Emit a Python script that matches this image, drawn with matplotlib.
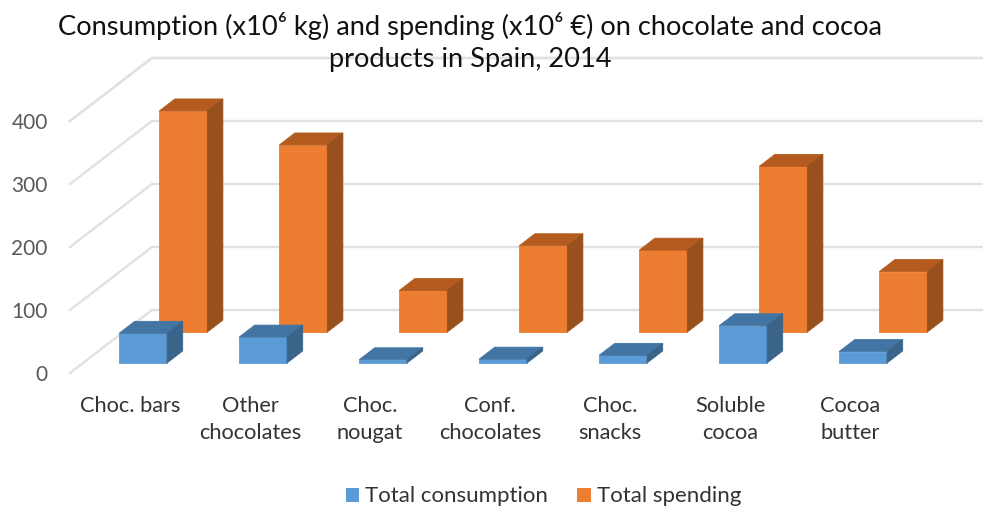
import matplotlib
matplotlib.use("Agg")
import matplotlib.pyplot as plt
from matplotlib.patches import Polygon, Patch

plt.rcParams['font.family'] = ['Lato', 'DejaVu Sans']
plt.rcParams['mathtext.default'] = 'regular'

categories = ["Choc. bars", "Other\nchocolates", "Choc.\nnougat", "Conf.\nchocolates",
              "Choc.\nsnacks", "Soluble\ncocoa", "Cocoa\nbutter"]
consumption = [47, 41, 5, 6, 12, 59, 18]
spending = [351, 297, 66, 137, 130, 263, 96]
y_ticks = [0, 100, 200, 300, 400]
y_wall = [0, 100, 200, 300, 400]
series_names = ["Total consumption", "Total spending"]
title = "Consumption (x10⁶ kg) and spending (x10⁶ €) on chocolate and cocoa\nproducts in Spain, 2014"

W, H = 983, 509
fig = plt.figure(figsize=(W / 100, H / 100), dpi=100)
ax = fig.add_axes([70 / W, (H - 373) / H, (W - 70) / W, 316 / H])
ax.set_xlim(-60 / 120, (W - 130) / 120)
ax.set_ylim(0, 316 / 0.63)
for s in ax.spines.values():
    s.set_visible(False)

# oblique projection: depth 0 (front) .. 1 (back wall)
DX, DY = 82 / 120, 100.0


def proj(x, v, d):
    return (x + d * DX, v + d * DY)


def bar(i, v, d0, dd, front, top, side, z):
    hw = 0.2
    l, r = i - hw, i + hw
    ax.add_patch(Polygon([proj(l, 0, d0), proj(r, 0, d0), proj(r, v, d0), proj(l, v, d0)],
                         fc=front, ec=front, lw=0.6, zorder=z, clip_on=False))
    ax.add_patch(Polygon([proj(l, v, d0), proj(r, v, d0), proj(r, v, d0 + dd), proj(l, v, d0 + dd)],
                         fc=top, ec=top, lw=0.6, zorder=z, clip_on=False))
    ax.add_patch(Polygon([proj(r, 0, d0), proj(r, 0, d0 + dd), proj(r, v, d0 + dd), proj(r, v, d0)],
                         fc=side, ec=side, lw=0.6, zorder=z, clip_on=False))


# gridlines: floor/side wall diagonal then back wall horizontal
x_left, x_right = ax.get_xlim()
for t in y_wall + [500]:
    if t == 500:
        p0 = proj(x_left, 400, 0)
        p1 = proj(x_left, 400, 1)
    else:
        p0 = proj(x_left, t, 0)
        p1 = proj(x_left, t, 1)
    ax.plot([p0[0], p1[0], x_right], [p0[1], p1[1], p1[1]], color="#E1E1E1", lw=1.7,
            zorder=1, clip_on=False, solid_joinstyle="miter")

D_BLUE, D_ORANGE, D_THICK = 0.16, 0.65, 0.19
for i, v in enumerate(spending):
    bar(i, v, D_ORANGE, D_THICK, "#ED7D31", "#B45C1F", "#98501D", 3)
for i, v in enumerate(consumption):
    bar(i, v, D_BLUE, D_THICK, "#5B9BD5", "#4275A3", "#3A6489", 4)

ax.set_yticks(y_ticks)
ax.set_xticks(range(len(categories)))
ax.set_xticklabels(categories, fontsize=15.7, color="#333333", linespacing=1.47, va="top")
ax.tick_params(axis="x", length=0, pad=16.2)
ax.tick_params(axis="y", length=0, pad=16, labelsize=15, labelcolor="#595959")

fig.text(470 / W, 1 - 42 / H, title, ha="center", va="center", fontsize=19.6, color="#111111",
         linespacing=1.3)

handles = [Patch(fc="#5B9BD5", ec="none"), Patch(fc="#ED7D31", ec="none")]
fig.legend(handles, series_names, loc="center", bbox_to_anchor=(543.5 / W, 1 - 496.5 / H), ncol=2,
           frameon=False, fontsize=16, labelcolor="#333333", handlelength=0.6, handleheight=0.6,
           handletextpad=0.27, columnspacing=1.3)

fig.savefig("out.png", dpi=100)
